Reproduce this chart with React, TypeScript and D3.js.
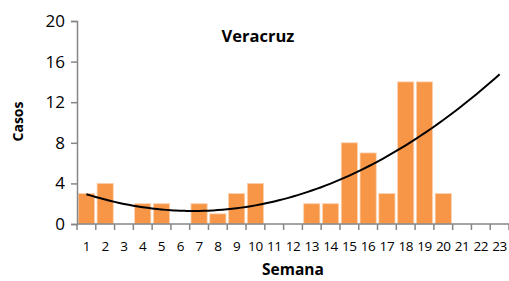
import React, { useRef, useEffect } from "react";
import * as d3 from "d3";

const weeks = d3.range(1, 24).map(String);
const cases = [3, 4, 0, 2, 2, 0, 2, 1, 3, 4, 0, 0, 2, 2, 8, 7, 3, 14, 14, 3];
const yTicks = [0, 4, 8, 12, 16, 20];
const title = "Veracruz";

// least squares quadratic fit, like an Excel 2nd order trendline
function quadFit(xs: number[], ys: number[]) {
  const n = xs.length;
  const s = (f: (x: number, y: number) => number) =>
    d3.sum(xs, (x, i) => f(x, ys[i]));
  const sx = s((x) => x), sx2 = s((x) => x * x), sx3 = s((x) => x ** 3), sx4 = s((x) => x ** 4);
  const sy = s((_, y) => y), sxy = s((x, y) => x * y), sx2y = s((x, y) => x * x * y);
  const M = [
    [n, sx, sx2, sy],
    [sx, sx2, sx3, sxy],
    [sx2, sx3, sx4, sx2y],
  ];
  for (let i = 0; i < 3; i++) {
    for (let j = i + 1; j < 3; j++) {
      const f = M[j][i] / M[i][i];
      for (let k = i; k < 4; k++) M[j][k] -= f * M[i][k];
    }
  }
  const c = [0, 0, 0];
  for (let i = 2; i >= 0; i--) {
    let v = M[i][3];
    for (let k = i + 1; k < 3; k++) v -= M[i][k] * c[k];
    c[i] = v / M[i][i];
  }
  return (x: number) => c[0] + c[1] * x + c[2] * x * x;
}

export default function App() {
  const svgRef = useRef<SVGSVGElement>(null);

  useEffect(() => {
    const svg = d3.select(svgRef.current);
    svg.selectAll("*").remove();

    const width = 509;
    const height = 281;
    const margin = { left: 77, right: 0, top: 21, bottom: 57 };
    const font = "'Open Sans', sans-serif";
    const axisColor = "#868686";

    const x = d3
      .scaleBand()
      .domain(weeks)
      .range([margin.left, width - margin.right])
      .paddingInner(0.14)
      .paddingOuter(0.07);

    const y = d3
      .scaleLinear()
      .domain([0, 20])
      .range([height - margin.bottom, margin.top]);

    const step = x.step();
    const xEdge = (i: number) => margin.left + i * step;

    // bars
    svg
      .append("g")
      .selectAll("rect")
      .data(cases)
      .join("rect")
      .attr("x", (_, i) => x(weeks[i])!)
      .attr("y", (d) => y(d))
      .attr("width", x.bandwidth())
      .attr("height", (d) => y(0) - y(d))
      .attr("fill", "#F79646")
      .attr("stroke", "#FBD0AE")
      .attr("stroke-width", 0.8);

    // trendline
    const fit = quadFit(
      cases.map((_, i) => i + 1),
      cases
    );
    const cx = (w: number) => x(String(w))! + x.bandwidth() / 2;
    const trendPts = d3.range(1, 23.01, 0.25);
    svg
      .append("path")
      .attr(
        "d",
        d3
          .line<number>()
          .x((w) => margin.left + (w - 0.5) * step)
          .y((w) => y(fit(w)))
          .curve(d3.curveBasis)(trendPts)
      )
      .attr("fill", "none")
      .attr("stroke", "#000")
      .attr("stroke-width", 2);

    // y axis
    const ya = svg
      .append("g")
      .attr("transform", `translate(${margin.left},0)`)
      .call(d3.axisLeft(y).tickValues(yTicks).tickSize(6).tickPadding(6));
    ya.selectAll("path,line").attr("stroke", axisColor).attr("stroke-width", 1.5);
    ya.selectAll("text")
      .attr("font-family", font)
      .attr("font-size", 17)
      .attr("fill", "#000");

    // x axis
    const xa = svg.append("g");
    xa.append("line")
      .attr("x1", margin.left)
      .attr("x2", width)
      .attr("y1", y(0))
      .attr("y2", y(0))
      .attr("stroke", axisColor)
      .attr("stroke-width", 1.5);
    xa.selectAll("line.tk")
      .data(d3.range(0, weeks.length + 1))
      .join("line")
      .attr("class", "tk")
      .attr("x1", (i) => xEdge(i))
      .attr("x2", (i) => xEdge(i))
      .attr("y1", y(0))
      .attr("y2", y(0) + 6)
      .attr("stroke", axisColor)
      .attr("stroke-width", 1.5);
    xa.selectAll("text")
      .data(weeks)
      .join("text")
      .attr("x", (d) => cx(+d))
      .attr("y", y(0) + 27)
      .attr("text-anchor", "middle")
      .attr("font-family", font)
      .attr("font-size", 13.5)
      .attr("letter-spacing", -0.4)
      .text((d) => d);

    // titles
    svg
      .append("text")
      .attr("x", 258)
      .attr("y", 42)
      .attr("text-anchor", "middle")
      .attr("font-family", font)
      .attr("font-weight", "bold")
      .attr("font-size", 16.5)
      .text(title);

    svg
      .append("text")
      .attr("transform", `translate(23,${y(10) - 1}) rotate(-90)`)
      .attr("text-anchor", "middle")
      .attr("font-family", font)
      .attr("font-weight", "bold")
      .attr("font-size", 14)
      .text("Casos");

    svg
      .append("text")
      .attr("x", 293)
      .attr("y", 275)
      .attr("text-anchor", "middle")
      .attr("font-family", font)
      .attr("font-weight", "bold")
      .attr("font-size", 15.5)
      .text("Semana");
  }, []);

  return (
    <svg
      ref={svgRef}
      width={509}
      height={281}
      style={{ position: "absolute", left: 0, top: 0, background: "#fff" }}
    />
  );
}
